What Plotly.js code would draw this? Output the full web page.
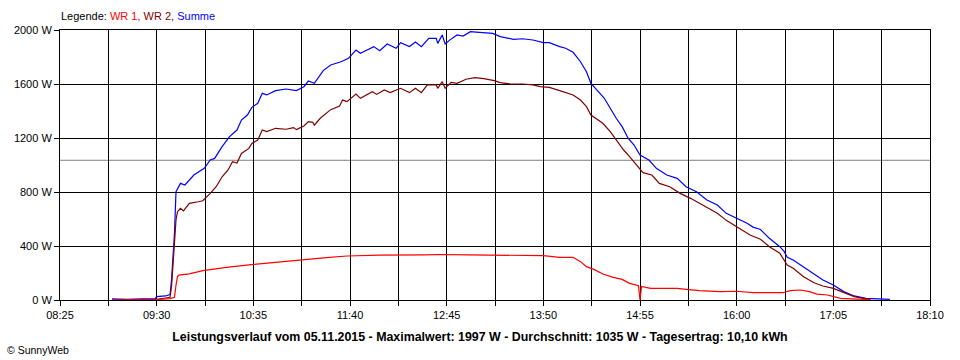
<!DOCTYPE html>
<html>
<head>
<meta charset="utf-8">
<script src="https://cdn.plot.ly/plotly-3.0.1.min.js"></script>
<style>
html,body{margin:0;padding:0;background:#fff;}
#chart{width:960px;height:360px;}
</style>
</head>
<body>
<div id="chart"></div>
<script>
// ---- data (time HH:MM, power in W) ----
const day = "2015-11-05";

const summeTimes = ["09:00","09:10","09:20","09:29","09:30","09:36","09:39","09:40","09:42","09:43","09:46","09:49","09:55","10:02","10:06","10:09","10:14","10:19","10:24","10:27","10:31","10:34","10:38","10:41","10:44","10:50","10:57","11:04","11:09","11:12","11:16","11:22","11:27","11:34","11:39","11:44","11:47","11:56","12:00","12:05","12:11","12:14","12:20","12:24","12:28","12:33","12:38","12:39","12:42","12:44","12:47","12:52","12:56","13:01","13:07","13:16","13:21","13:30","13:36","13:43","13:50","13:54","14:01","14:05","14:10","14:15","14:19","14:22","14:27","14:31","14:35","14:39","14:43","14:47","14:51","14:55","15:01","15:06","15:13","15:20","15:26","15:33","15:40","15:47","15:53","16:00","16:07","16:11","16:16","16:22","16:29","16:32","16:34","16:38","16:45","16:52","16:58","17:05","17:12","17:19","17:27","17:43"];
const summeValues = [8,5,8,10,25,30,40,150,500,802,864,852,926,975,1037,1049,1136,1210,1259,1333,1370,1427,1457,1531,1519,1551,1563,1551,1580,1622,1605,1699,1741,1765,1790,1852,1827,1877,1847,1896,1864,1906,1877,1911,1877,1938,1938,1901,1963,1896,1925,1963,1955,1988,1982,1975,1951,1931,1935,1926,1906,1906,1877,1865,1835,1765,1691,1605,1543,1494,1420,1346,1284,1198,1148,1074,1037,975,926,901,839,802,741,704,642,605,568,540,522,457,395,358,316,296,247,193,148,111,62,30,12,5];

const wr2Times = ["09:00","09:30","09:36","09:39","09:40","09:42","09:43","09:44","09:46","09:48","09:52","09:58","10:01","10:06","10:10","10:14","10:18","10:21","10:24","10:27","10:32","10:34","10:38","10:41","10:44","10:50","10:57","11:02","11:04","11:09","11:12","11:15","11:16","11:20","11:25","11:27","11:33","11:35","11:38","11:44","11:47","11:55","11:58","12:03","12:07","12:14","12:20","12:24","12:28","12:32","12:38","12:39","12:42","12:44","12:48","12:52","12:58","13:04","13:10","13:17","13:21","13:28","13:36","13:43","13:48","13:54","14:01","14:10","14:15","14:19","14:22","14:27","14:30","14:35","14:39","14:44","14:48","14:54","14:57","15:03","15:08","15:15","15:22","15:29","15:35","15:42","15:47","15:53","16:00","16:07","16:09","16:16","16:22","16:29","16:32","16:34","16:38","16:45","16:52","16:58","17:05","17:12","17:19","17:25","17:30"];
const wr2Values = [0,5,15,20,100,400,593,654,679,660,716,728,735,790,839,913,963,1025,1015,1086,1123,1160,1185,1259,1247,1272,1265,1277,1262,1289,1321,1316,1295,1346,1395,1410,1437,1481,1469,1526,1494,1543,1523,1556,1536,1568,1536,1568,1536,1593,1593,1568,1617,1568,1612,1605,1635,1647,1640,1625,1610,1600,1600,1593,1580,1575,1551,1519,1481,1432,1370,1333,1309,1247,1185,1111,1062,988,943,926,864,839,790,753,716,679,642,590,543,494,481,450,395,346,296,259,235,173,128,104,86,54,25,12,5];

const wr1Times = ["09:00","09:30","09:39","09:42","09:43","09:44","09:45","09:52","10:01","10:17","10:35","10:53","11:09","11:24","11:38","11:47","12:00","12:30","12:40","13:00","13:30","13:48","13:50","14:01","14:10","14:15","14:19","14:24","14:30","14:37","14:43","14:48","14:54","14:55","14:56","15:02","15:20","15:26","15:35","15:49","16:00","16:11","16:27","16:31","16:36","16:43","16:49","16:54","17:01","17:10","17:21","17:30"];
const wr1Values = [0,3,10,20,111,173,185,193,217,242,264,284,301,314,326,331,333,335,337,335,334,330,328,316,316,284,247,227,193,168,153,123,106,0,100,86,86,79,69,62,65,54,54,54,69,74,62,44,37,12,7,3];

const average = 1035;
const yTicks = [0, 400, 800, 1200, 1600, 2000];
const yTickLabels = ["0 W", "400 W", "800 W", "1200 W", "1600 W", "2000 W"];

const legendLabel = 'Legende: <span style="color:#ff0000">WR 1,</span> <span style="color:#800000">WR 2,</span> <span style="color:#0000ff">Summe</span>';
const titleText = "Leistungsverlauf vom 05.11.2015 - Maximalwert: 1997 W - Durchschnitt: 1035 W - Tagesertrag: 10,10 kWh";
const copyright = "© SunnyWeb";

// ---- build ----
const toDate = arr => arr.map(t => day + " " + t);
const mk = (times, vals, color, name) => ({
  x: toDate(times), y: vals, type: "scatter", mode: "lines", name: name,
  line: {color: color, width: 1.2, shape: "linear"}, hoverinfo: "x+y"
});

const data = [
  mk(summeTimes, summeValues, "#0000ff", "Summe"),
  mk(wr2Times, wr2Values, "#800000", "WR 2"),
  mk(wr1Times, wr1Values, "#ff0000", "WR 1")
];

const font = "Liberation Sans, Arial, sans-serif";

const layout = {
  width: 960, height: 360,
  margin: {l: 60, r: 30, t: 30, b: 60},
  paper_bgcolor: "#ffffff", plot_bgcolor: "#ffffff",
  showlegend: false,
  font: {family: font, size: 11, color: "#000"},
  title: {text: "<b>" + titleText + "</b>", font: {family: font, size: 12.4, color: "#000"},
          x: 0.5, xref: "container", xanchor: "center", y: 23/360, yref: "container", yanchor: "middle"},
  xaxis: {
    type: "date",
    range: [day + " 08:25", day + " 18:10"],
    tick0: day + " 08:25", dtick: 65 * 60 * 1000, tickformat: "%H:%M",
    ticks: "outside", ticklen: 5, tickcolor: "#000", tickwidth: 1,
    showgrid: true, gridcolor: "#000", gridwidth: 1,
    minor: {dtick: 32.5 * 60 * 1000, tick0: day + " 08:25", showgrid: true, gridcolor: "#000", gridwidth: 1,
            ticks: "outside", ticklen: 5, tickcolor: "#000"},
    showline: true, mirror: true, linecolor: "#000", linewidth: 1,
    zeroline: false, fixedrange: true,
    tickfont: {family: font, size: 11, color: "#000"}
  },
  yaxis: {
    range: [0, 2000], tickmode: "array", tickvals: yTicks, ticktext: yTickLabels,
    ticks: "outside", ticklen: 5, tickcolor: "#000",
    showgrid: true, gridcolor: "#000", gridwidth: 1,
    showline: true, mirror: true, linecolor: "#000", linewidth: 1,
    zeroline: false, fixedrange: true,
    tickfont: {family: font, size: 11, color: "#000"}
  },
  shapes: [{
    type: "line", xref: "paper", x0: 0, x1: 1, yref: "y", y0: average, y1: average,
    line: {color: "#808080", width: 1}, layer: "between"
  }],
  annotations: [
    {text: legendLabel, xref: "paper", x: 0, xanchor: "left", yref: "paper", y: 1, yanchor: "bottom",
     yshift: 6, showarrow: false, font: {family: font, size: 11, color: "#000"}, xshift: -1},
    {text: copyright, xref: "paper", x: -55/870, xanchor: "left", yref: "paper", y: -50/270, yanchor: "middle",
     showarrow: false, font: {family: font, size: 10.5, color: "#000"}}
  ]
};

Plotly.newPlot("chart", data, layout, {displayModeBar: false, staticPlot: true});
</script>
</body>
</html>
